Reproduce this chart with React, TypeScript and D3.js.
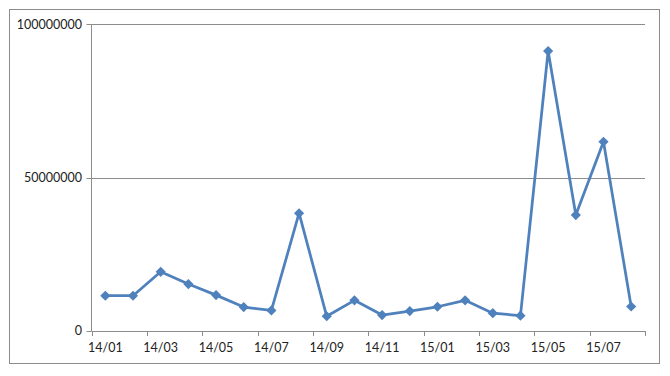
import React from "react";
import * as d3 from "d3";

const categories = [
  "14/01", "14/02", "14/03", "14/04", "14/05", "14/06", "14/07", "14/08", "14/09", "14/10",
  "14/11", "14/12", "15/01", "15/02", "15/03", "15/04", "15/05", "15/06", "15/07", "15/08",
];
const values = [
  11500000, 11500000, 19300000, 15300000, 11700000, 7800000, 6700000, 38400000, 4800000, 10000000,
  5200000, 6500000, 7900000, 10000000, 5800000, 5000000, 91300000, 37800000, 61700000, 8000000,
];
const yTicks = [0, 50000000, 100000000];

const W = 670;
const H = 376;
const left = 91.5;
const right = 645;
const top = 24.3;
const bottom = 331;
const blue = "#4F81BD";
const grey = "#8C8C8C";
const font = "Lato, 'Open Sans', sans-serif";

export default function App() {
  const x = d3.scaleBand<string>().domain(categories).range([left, right]).padding(0);
  const y = d3.scaleLinear().domain([0, 100000000]).range([bottom, top]);
  const line = d3
    .line<number>()
    .x((_, i) => (x(categories[i]) as number) + x.bandwidth() / 2)
    .y((d) => y(d));
  const diamond = d3.symbol().type(d3.symbolDiamond2).size(66)() as string;
  const tickCats = categories.filter((_, i) => i % 2 === 0);

  return (
    <svg width={W} height={H} style={{ position: "absolute", left: 0, top: 0, background: "#fff" }}>
      <rect x={9.5} y={9.5} width={650} height={354} fill="#fff" stroke={grey} strokeWidth={1} />
      {yTicks.map((t) => (
        <g key={t}>
          {t > 0 && (
            <line x1={left} x2={right} y1={Math.round(y(t)) + 0.5} y2={Math.round(y(t)) + 0.5} stroke={grey} strokeWidth={1} />
          )}
          <line x1={left - 5} x2={left} y1={Math.round(y(t)) + 0.5} y2={Math.round(y(t)) + 0.5} stroke={grey} strokeWidth={1} />
          <text x={82} y={y(t)} dy="0.35em" textAnchor="end" fontFamily={font} fontSize={12.5} fill="#222">
            {t}
          </text>
        </g>
      ))}
      <line x1={left} x2={left} y1={top} y2={bottom} stroke={grey} strokeWidth={1} />
      <line x1={left} x2={right} y1={Math.round(bottom) + 0.5} y2={Math.round(bottom) + 0.5} stroke={grey} strokeWidth={1} />
      {tickCats.map((c) => (
        <line
          key={"t" + c}
          x1={Math.round(x(c) as number) + 0.5}
          x2={Math.round(x(c) as number) + 0.5}
          y1={bottom}
          y2={bottom + 5}
          stroke={grey}
          strokeWidth={1}
        />
      ))}
      <line x1={Math.round(right) + 0.5} x2={Math.round(right) + 0.5} y1={bottom} y2={bottom + 5} stroke={grey} strokeWidth={1} />
      {tickCats.map((c) => (
        <text
          key={"l" + c}
          x={(x(c) as number) + x.bandwidth() / 2}
          y={352}
          textAnchor="middle"
          fontFamily={font}
          fontSize={12.5}
          fill="#222"
        >
          {c}
        </text>
      ))}
      <path d={line(values) as string} fill="none" stroke={blue} strokeWidth={2.75} strokeLinejoin="round" />
      {values.map((v, i) => (
        <path
          key={i}
          d={diamond}
          transform={`translate(${(x(categories[i]) as number) + x.bandwidth() / 2},${y(v)})`}
          fill={blue}
        />
      ))}
    </svg>
  );
}
